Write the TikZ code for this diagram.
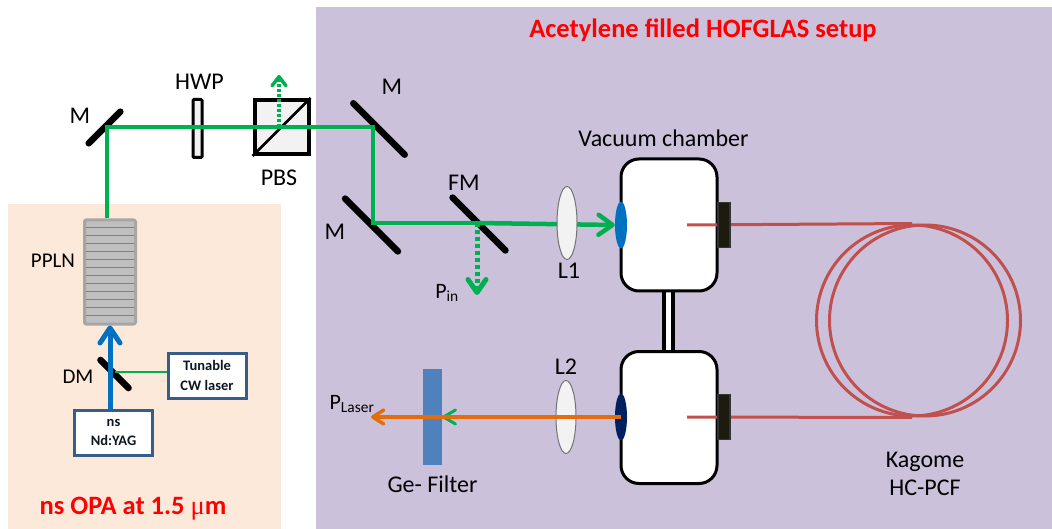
\documentclass[tikz,border=0pt]{standalone}
\usepackage{fontspec}
\setmainfont{Carlito}
\newfontfamily\greekfont{Liberation Serif}
\usepackage{tikz}
\usetikzlibrary{arrows.meta,positioning,shapes.geometric}
\definecolor{opapeach}{HTML}{FDE9D9}
\definecolor{setuplilac}{HTML}{CCC1DA}
\definecolor{beamgreen}{HTML}{00B050}
\definecolor{pumpblue}{HTML}{0070C0}
\definecolor{boxblue}{HTML}{385D8A}
\definecolor{filterblue}{HTML}{4F81BD}
\definecolor{windownavy}{HTML}{002060}
\definecolor{fibrered}{HTML}{C0504D}
\definecolor{outorange}{HTML}{E46C0A}
\definecolor{portblack}{HTML}{1D1B10}

\begin{document}
\begin{tikzpicture}[
  x=1pt, y=-1pt,
  mirror/.style={fill=black, rounded corners=3pt, inner sep=0pt,
                 minimum height=6.5pt},
  lab/.style={font=\fontsize{24}{28}\selectfont, inner sep=0pt},
  sublab/.style={font=\fontsize{22}{26}\selectfont, inner sep=0pt},
  smalllab/.style={font=\fontsize{21}{25}\selectfont, inner sep=0pt},
  redlab/.style={font=\fontsize{26.5}{30}\selectfont\bfseries, text=red, inner sep=0pt},
  boxtxt/.style={font=\fontsize{14.5}{18.5}\selectfont\bfseries, text=black!75!boxblue,
                 align=center, inner sep=0pt},
  box/.style={draw=boxblue, line width=3pt, fill=white, minimum width=78pt,
              minimum height=45pt, boxtxt},
  lens/.style={ellipse, draw=black!55, line width=1pt, fill=black!5, inner sep=0pt,
               minimum width=20pt, minimum height=73pt},
  window/.style={ellipse, inner sep=0pt, minimum width=12pt, minimum height=47pt},
  chamber/.style={draw, line width=3pt, fill=white, rounded corners=18pt, inner sep=0pt,
                  minimum width=96pt, minimum height=132pt},
  port/.style={draw=black!80, line width=1.5pt, fill=portblack, inner sep=0pt,
               minimum width=12pt, minimum height=45pt},
  loop/.style={circle, draw=fibrered, line width=3pt, inner sep=0pt,
               minimum size=191pt},
  beam/.style={beamgreen, line width=4.5pt},
  pump/.style={pumpblue, line width=5pt, -{Straight Barb[length=15pt,width=20pt,round]}},
  fibre/.style={fibrered, line width=3pt}
]
  \fill[opapeach] (8,204) rectangle (281,529);
  \fill[setuplilac] (316,7) rectangle (1052,529);
  \useasboundingbox (0,0) rectangle (1052,529);

  \node[mirror, rotate=45, minimum width=51pt] (m1) at (104.5,127.5) {};
  \node[mirror, rotate=-45, minimum width=79pt] (m2) at (379,129) {};
  \node[mirror, rotate=-45, minimum width=81pt] (m3) at (371.5,225) {};
  \node[mirror, rotate=-45, minimum width=81pt] (fm) at (479,224) {};
  \node[mirror, rotate=-45, minimum width=46pt] (dm) at (114.5,374) {};

  \node[draw, line width=3pt, fill=black!5, inner sep=0pt, minimum width=9pt,
        minimum height=58pt, rounded corners=1pt] (hwp) at (197.5,128.5) {};
  \node[draw, line width=4pt, fill=black!5, inner sep=0pt, minimum size=54pt] (pbs) at (281.5,127) {};
  \draw[line width=2.5pt] (pbs.south west) -- (pbs.north east);

  \node[draw=black!35, line width=3pt, fill=black!25, rounded corners=2pt, inner sep=0pt,
        minimum width=51pt, minimum height=104pt] (ppln) at (110,272) {};
  \foreach \yy in {228,236,...,316}
    \draw[black!50, line width=1pt] (86,\yy) -- (134,\yy);

  \coordinate (m1c) at (107,127);
  \coordinate (m2c) at (373,127);
  \coordinate (m3c) at (373,223);
  \coordinate (spliton) at (477,223);
  \coordinate (pbsc) at (279,127);

  \draw[beam] (m1c |- ppln.north) -- (m1c) -- (m2c) -- (m3c) -- (spliton);
  \draw[beamgreen, line width=3.5pt, dash pattern=on 3pt off 2pt,
        -{Straight Barb[length=9pt,width=14pt,round]}] (pbsc) -- (279,75);
  \draw[beamgreen, line width=5pt, dash pattern=on 4pt off 3pt,
        -{Straight Barb[length=13pt,width=18pt,round]}] (spliton) -- (477,295);

  \node[draw, line width=4pt, fill=white, inner sep=0pt, minimum width=9pt,
        minimum height=62pt] (tube) at (668,321) {};
  \node[chamber] (cham1) at (669,225) {};
  \node[chamber] (cham2) at (669,417.5) {};

  \node[window, fill=pumpblue] (win1) at (621,225) {};
  \node[window, fill=windownavy] (win2) at (621,417) {};

  \draw[beam, -{Straight Barb[length=14pt,width=20pt,round]}] (spliton) -- (win1.west);
  \draw[beamgreen, line width=3pt, -{Straight Barb[length=12pt,width=14pt,round]}]
    (win2.west) -- (442,417);

  \node[lens] (l1) at (567,223) {};
  \node[lens] (l2) at (566,417) {};

  \node[fill=filterblue, inner sep=0pt, minimum width=19pt, minimum height=96pt] (gef) at (432.5,417) {};
  \draw[outorange, line width=3.5pt, -{Straight Barb[length=11pt,width=14pt,round]}]
    (win2.center) -- (371,417);

  \node[loop] (loopa) at (912,320.5) {};
  \node[loop] (loopb) at (925,320.5) {};
  \coordinate (fibin1) at (687,225);
  \coordinate (fibin2) at (687,417);
  \draw[fibre] (fibin1) -- (loopa.north);
  \draw[fibre] (fibin2) -- (loopa.south);
  \node[port] (port1) at (724,225) {};
  \node[port] (port2) at (724,417) {};

  \draw[beamgreen, line width=2.5pt] (115,372) -- (167,372);
  \node[box] (cwlaser) at (207,375.5) {Tunable\\[1pt]CW laser};
  \node[box] (nsyag) at (113.5,432.5) {ns\\[1pt]Nd:YAG};
  \draw[pump] (ppln |- nsyag.north) -- (ppln.south);

  \node[lab] (lm1) at (80,116) {M};
  \node[lab] (lhwp) at (199.5,82) {HWP};
  \node[lab] (lpbs) at (279,178) {PBS};
  \node[smalllab] (lppln) at (53,261) {PPLN};
  \node[smalllab] (ldm) at (78,377) {DM};
  \node[lab] (lm2) at (392,87) {M};
  \node[lab] (lm3) at (335,232) {M};
  \node[lab] (lfm) at (464,183) {FM};
  \node[lab, below=3pt of l1, xshift=2pt] (ll1) {L1};
  \node[lab, above=5pt of l2] (ll2) {L2};
  \node[lab, above=11pt of cham1, xshift=-5.5pt] (lcham) {Vacuum chamber};
  \node[sublab] (lpin) at (447,293) {P\textsubscript{in}};
  \node[sublab] (lplaser) at (352,404) {P\textsubscript{Laser}};
  \node[lab, below=10pt of gef] (lgef) {Ge- Filter};
  \node[lab, align=center] (lkag) at (925,474) {Kagome\\HC-PCF};
  \node[redlab] (ltitle) at (703,30) {Acetylene filled HOFGLAS setup};
  \node[redlab] (lopa) at (133,509) {ns OPA at 1.5 {\greekfont\mdseries μ}m};
\end{tikzpicture}
\end{document}
